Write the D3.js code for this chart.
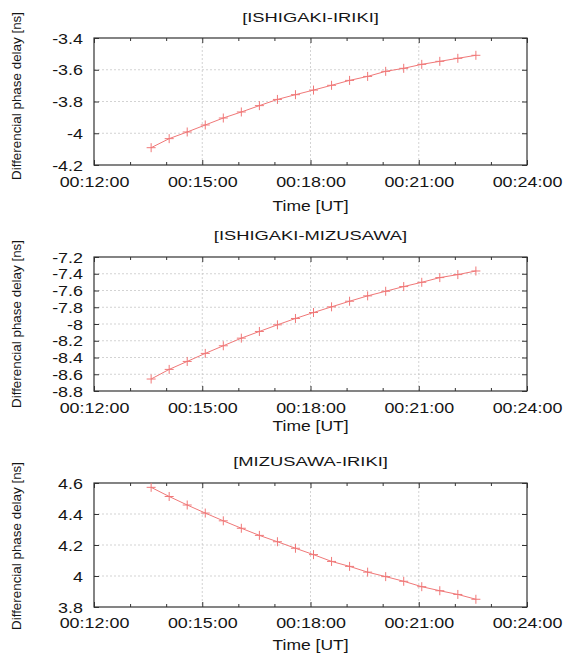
<!DOCTYPE html>
<html>
<head>
<meta charset="utf-8">
<script src="https://cdn.jsdelivr.net/npm/d3@7"></script>
<style>
  html, body { margin: 0; padding: 0; background: #fff; }
  svg { display: block; font-family: "Liberation Sans", Arial, Helvetica, sans-serif; }
</style>
</head>
<body>
<svg id="chart" width="563" height="656"></svg>
<script>
// ---- data ----
const times = ["00:13:35","00:14:05","00:14:35","00:15:05","00:15:35","00:16:05","00:16:35",
               "00:17:05","00:17:35","00:18:05","00:18:35","00:19:05","00:19:35","00:20:05",
               "00:20:35","00:21:05","00:21:35","00:22:05","00:22:35"];
const ishigakiIriki = [-4.091,-4.034,-3.992,-3.948,-3.904,-3.866,-3.826,-3.787,-3.757,-3.728,
                       -3.698,-3.667,-3.642,-3.610,-3.591,-3.566,-3.547,-3.528,-3.509];
const ishigakiMizusawa = [-8.657,-8.542,-8.447,-8.351,-8.260,-8.169,-8.089,-8.010,-7.934,-7.863,
                          -7.795,-7.728,-7.664,-7.609,-7.553,-7.502,-7.446,-7.410,-7.367];
const mizusawaIriki = [4.572,4.513,4.458,4.406,4.356,4.308,4.262,4.221,4.179,4.138,
                       4.094,4.062,4.025,3.996,3.966,3.931,3.905,3.881,3.850];
const titles = ["[ISHIGAKI-IRIKI]","[ISHIGAKI-MIZUSAWA]","[MIZUSAWA-IRIKI]"];
const xTickLabels = ["00:12:00","00:15:00","00:18:00","00:21:00","00:24:00"];
const xMinorTickLabels = ["00:13:00","00:14:00","00:16:00","00:17:00","00:19:00","00:20:00","00:22:00","00:23:00"];
const yTicks1 = [-3.4,-3.6,-3.8,-4,-4.2];
const yTicks2 = [-7.2,-7.4,-7.6,-7.8,-8,-8.2,-8.4,-8.6,-8.8];
const yTicks3 = [4.6,4.4,4.2,4,3.8];
const xLabel = "Time [UT]";
const yLabel = "Differencial phase delay [ns]";

// ---- layout ----
const parseT = d3.utcParse("%H:%M:%S");
const fmtT = d3.utcFormat("%H:%M:%S");
const left = 94, right = 527;
const panels = [
  { series: ishigakiIriki,    ticks: yTicks1, title: titles[0], top: 38,  bottom: 165, titleY: 22,  tickY: 22, xlabY: 211, ylabY: 96 },
  { series: ishigakiMizusawa, ticks: yTicks2, title: titles[1], top: 257, bottom: 391, titleY: 240, tickY: 22, xlabY: 431, ylabY: 324 },
  { series: mizusawaIriki,    ticks: yTicks3, title: titles[2], top: 483, bottom: 607, titleY: 466, tickY: 21, xlabY: 650, ylabY: 546 }
];
const sxTick = 1.28;  // horizontal stretch of the reference text
const sxTitle = 1.36;
const sxLab = 1.25;

const svg = d3.select("#chart");
const x = d3.scaleUtc()
  .domain([parseT(xTickLabels[0]), parseT(xTickLabels[xTickLabels.length - 1])])
  .range([left, right]);

const red = "#f07878";
const borderCol = "#333";
const gridCol = "#c8c8c8";
const textCol = "#151515";

panels.forEach(p => {
  const ext = d3.extent(p.ticks);
  const y = d3.scaleLinear().domain(ext).range([p.bottom, p.top]);
  const g = svg.append("g");
  const majors = xTickLabels.map(parseT);
  const minors = xMinorTickLabels.map(parseT);

  // grid
  g.append("g").selectAll("line").data(p.ticks.filter(t => t !== ext[0] && t !== ext[1]))
    .join("line")
    .attr("x1", left).attr("x2", right)
    .attr("y1", d => y(d)).attr("y2", d => y(d))
    .attr("stroke", gridCol).attr("stroke-width", 0.8).attr("stroke-dasharray", "2,2");
  g.append("g").selectAll("line").data(majors.slice(1, -1))
    .join("line")
    .attr("x1", d => x(d)).attr("x2", d => x(d))
    .attr("y1", p.top).attr("y2", p.bottom)
    .attr("stroke", gridCol).attr("stroke-width", 0.8).attr("stroke-dasharray", "2,2");

  // bottom axis (labels + inward major ticks)
  const axB = g.append("g").attr("transform", `translate(0,${p.bottom})`)
    .call(d3.axisBottom(x).tickValues(majors).tickFormat(fmtT).tickSizeInner(-5).tickSizeOuter(0));
  axB.select(".domain").remove();
  axB.selectAll("line").attr("stroke", borderCol);
  axB.selectAll("text")
    .attr("y", p.tickY).attr("dy", 0)
    .attr("font-size", 14).attr("fill", textCol)
    .attr("font-family", "Liberation Sans, Arial, sans-serif")
    .attr("transform", `scale(${sxTick},1)`);
  // minor bottom ticks
  const axBm = g.append("g").attr("transform", `translate(0,${p.bottom})`)
    .call(d3.axisBottom(x).tickValues(minors).tickFormat("").tickSizeInner(-3).tickSizeOuter(0));
  axBm.select(".domain").remove();
  axBm.selectAll("line").attr("stroke", borderCol);
  // top mirror ticks
  const axT = g.append("g").attr("transform", `translate(0,${p.top})`)
    .call(d3.axisTop(x).tickValues(majors).tickFormat("").tickSizeInner(-5).tickSizeOuter(0));
  axT.select(".domain").remove();
  axT.selectAll("line").attr("stroke", borderCol);
  const axTm = g.append("g").attr("transform", `translate(0,${p.top})`)
    .call(d3.axisTop(x).tickValues(minors).tickFormat("").tickSizeInner(-3).tickSizeOuter(0));
  axTm.select(".domain").remove();
  axTm.selectAll("line").attr("stroke", borderCol);

  // left axis
  const axL = g.append("g").attr("transform", `translate(${left},0)`)
    .call(d3.axisLeft(y).tickValues(p.ticks).tickFormat(d => String(d)).tickSizeInner(-5).tickSizeOuter(0));
  axL.select(".domain").remove();
  axL.selectAll("line").attr("stroke", borderCol);
  axL.selectAll("text")
    .attr("x", -11 / sxTick).attr("dy", "0.36em")
    .attr("font-size", 14).attr("fill", textCol)
    .attr("font-family", "Liberation Sans, Arial, sans-serif")
    .attr("transform", `scale(${sxTick},1)`);
  // right mirror
  const axR = g.append("g").attr("transform", `translate(${right},0)`)
    .call(d3.axisRight(y).tickValues(p.ticks).tickFormat("").tickSizeInner(-5).tickSizeOuter(0));
  axR.select(".domain").remove();
  axR.selectAll("line").attr("stroke", borderCol);

  // border
  g.append("rect")
    .attr("x", left).attr("y", p.top)
    .attr("width", right - left).attr("height", p.bottom - p.top)
    .attr("fill", "none").attr("stroke", borderCol).attr("stroke-width", 1.2);

  // series
  const pts = times.map((t, i) => ({ t: parseT(t), v: p.series[i] }));
  g.append("path").datum(pts)
    .attr("fill", "none").attr("stroke", red).attr("stroke-width", 1)
    .attr("d", d3.line().x(d => x(d.t)).y(d => y(d.v)));
  const m = 4.5;
  g.append("g").selectAll("path").data(pts).join("path")
    .attr("d", d => {
      const cx = x(d.t), cy = y(d.v);
      return `M${cx - m},${cy}H${cx + m}M${cx},${cy - m}V${cy + m}`;
    })
    .attr("stroke", red).attr("stroke-width", 1).attr("fill", "none");

  // title
  const cxm = (left + right) / 2;
  g.append("text")
    .attr("transform", `translate(${cxm},${p.titleY}) scale(${sxTitle},1)`)
    .attr("text-anchor", "middle").attr("font-size", 13.5).attr("fill", textCol)
    .text(p.title);
  // x label
  g.append("text")
    .attr("transform", `translate(${cxm},${p.xlabY}) scale(${sxLab},1)`)
    .attr("text-anchor", "middle").attr("font-size", 14).attr("fill", textCol)
    .text(xLabel);
  // y label
  g.append("text")
    .attr("transform", `translate(21,${p.ylabY}) rotate(-90)`)
    .attr("text-anchor", "middle").attr("font-size", 13.4).attr("fill", textCol)
    .text(yLabel);
});
</script>
</body>
</html>
